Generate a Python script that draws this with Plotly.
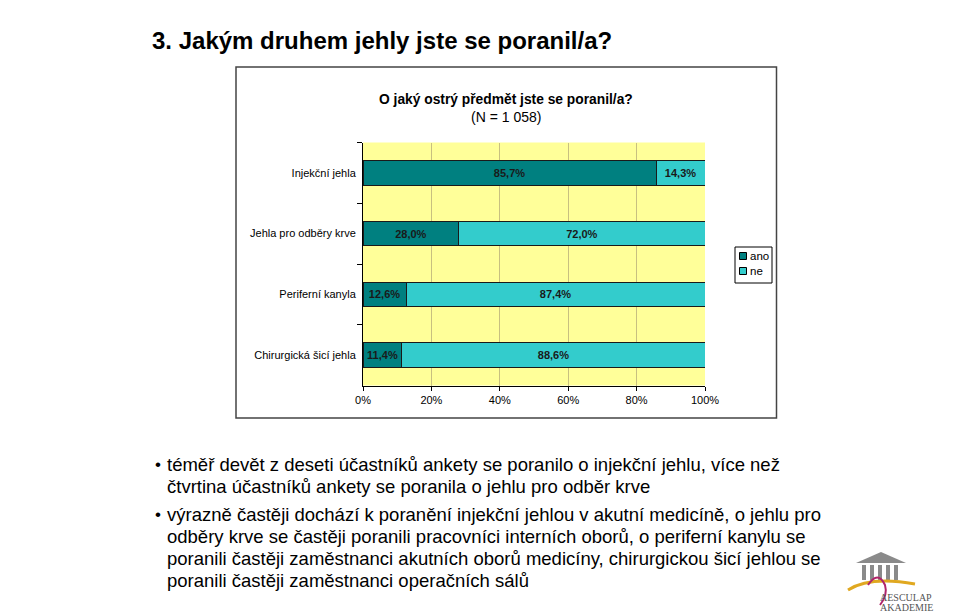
import plotly.graph_objects as go

categories = ["Injekční jehla", "Jehla pro odběry krve", "Periferní kanyla", "Chirurgická šicí jehla"]
ano = [85.7, 28.0, 12.6, 11.4]
ne = [14.3, 72.0, 87.4, 88.6]
series_names = ["ano", "ne"]
series_colors = ["#008080", "#33CCCC"]
x_ticks = [0, 20, 40, 60, 80, 100]

page_title = "<b>3. Jakým druhem jehly jste se poranil/a?</b>"
chart_title = "<b>O jaký ostrý předmět jste se poranil/a?</b>"
chart_subtitle = "(N = 1 058)"
bullet_lines = [
    ("• ", "téměř devět z deseti účastníků ankety se poranilo o injekční jehlu, více než"),
    ("", "čtvrtina účastníků ankety se poranila o jehlu pro odběr krve"),
    ("• ", "výrazně častěji dochází k poranění injekční jehlou v akutní medicíně, o jehlu pro"),
    ("", "odběry krve se častěji poranili pracovníci interních oborů, o periferní kanylu se"),
    ("", "poranili častěji zaměstnanci akutních oborů medicíny, chirurgickou šicí jehlou se"),
    ("", "poranili častěji zaměstnanci operačních sálů"),
]
bullet_y = [464, 486, 514, 536, 558, 580]

W, H = 960, 614
FONT = "Liberation Sans, Arial, sans-serif"
def px(x):
    return x / W
def py(y):
    return 1 - y / H

fig = go.Figure()
for name, vals, col in zip(series_names, [ano, ne], series_colors):
    fig.add_trace(go.Bar(
        y=categories, x=vals, name=name, orientation="h",
        marker=dict(color=col, line=dict(color="#1a1a1a", width=1)),
        texttemplate="<b>%{x:.1f}%</b>", textposition="inside", insidetextanchor="middle",
        textfont=dict(size=11, color="#1a1a1a", family=FONT),
        width=0.4, showlegend=False,
    ))

shapes = []
# chart box
shapes.append(dict(type="rect", xref="paper", yref="paper",
                   x0=px(236), x1=px(776.5), y0=py(418), y1=py(67),
                   line=dict(color="#444444", width=1.5), fillcolor="rgba(0,0,0,0)", layer="below"))
# plot area background
shapes.append(dict(type="rect", xref="paper", yref="paper",
                   x0=px(363), x1=px(705), y0=py(385.5), y1=py(142.5),
                   line=dict(width=0), fillcolor="#FFFF99", layer="below"))

# custom legend
shapes.append(dict(type="rect", xref="paper", yref="paper",
                   x0=px(735), x1=px(772), y0=py(283), y1=py(247),
                   line=dict(color="#000000", width=1), fillcolor="#FFFFFF"))
for i, col in enumerate(series_colors):
    yc = 256 + i * 15
    shapes.append(dict(type="rect", xref="paper", yref="paper",
                       x0=px(739.5), x1=px(746.5), y0=py(yc + 3.5), y1=py(yc - 3.5),
                       line=dict(color="#000000", width=1), fillcolor=col))

# logo
shapes.append(dict(type="path", xref="paper", yref="paper",
                   path=f"M {px(856)},{py(563)} L {px(881)},{py(552)} L {px(906)},{py(563)} Z",
                   fillcolor="#8a8a8a", line=dict(width=0)))
for cx in [862, 870, 878, 886, 894]:
    shapes.append(dict(type="rect", xref="paper", yref="paper",
                       x0=px(cx), x1=px(cx + 4), y0=py(580), y1=py(565),
                       fillcolor="#8a8a8a", line=dict(width=0)))
shapes.append(dict(type="path", xref="paper", yref="paper",
                   path=f"M {px(848)},{py(590)} Q {px(870)},{py(576)} {px(915)},{py(584)}",
                   line=dict(color="#e0a820", width=3)))
shapes.append(dict(type="path", xref="paper", yref="paper",
                   path=f"M {px(868)},{py(585)} Q {px(878)},{py(570)} {px(885)},{py(585)} Q {px(888)},{py(595)} {px(880)},{py(605)}",
                   line=dict(color="#b0246a", width=2)))

annotations = []
for i, name in enumerate(series_names):
    yc = 256 + i * 15
    annotations.append(dict(text=name, xref="paper", yref="paper", x=px(748), y=py(yc),
                            xanchor="left", yanchor="middle", showarrow=False,
                            font=dict(size=11.5, color="#000000", family=FONT)))
annotations.append(dict(text=page_title, xref="paper", yref="paper", x=px(150), y=py(40),
                        xanchor="left", yanchor="middle", showarrow=False,
                        font=dict(size=24, color="#000000", family=FONT)))
annotations.append(dict(text=chart_title, xref="paper", yref="paper", x=px(506), y=py(100),
                        xanchor="center", yanchor="middle", showarrow=False,
                        font=dict(size=13.8, color="#000000", family=FONT)))
annotations.append(dict(text=chart_subtitle, xref="paper", yref="paper", x=px(506), y=py(117),
                        xanchor="center", yanchor="middle", showarrow=False,
                        font=dict(size=14, color="#000000", family=FONT)))
for (bullet, line), yy in zip(bullet_lines, bullet_y):
    if bullet:
        annotations.append(dict(text="•", xref="paper", yref="paper", x=px(153), y=py(yy),
                                xanchor="left", yanchor="middle", showarrow=False,
                                font=dict(size=17, color="#000000", family=FONT)))
    annotations.append(dict(text=line, xref="paper", yref="paper", x=px(165), y=py(yy),
                            xanchor="left", yanchor="middle", showarrow=False,
                            font=dict(size=18.5, color="#000000", family=FONT)))
annotations.append(dict(text="AESCULAP", xref="paper", yref="paper", x=px(878), y=py(597),
                        xanchor="left", yanchor="middle", showarrow=False,
                        font=dict(size=10, color="#555555", family="Liberation Serif, serif")))
annotations.append(dict(text="AKADEMIE", xref="paper", yref="paper", x=px(878), y=py(607),
                        xanchor="left", yanchor="middle", showarrow=False,
                        font=dict(size=10, color="#555555", family="Liberation Serif, serif")))

fig.update_layout(
    width=W, height=H,
    margin=dict(l=0, r=0, t=0, b=0, autoexpand=False),
    paper_bgcolor="#FFFFFF", plot_bgcolor="rgba(0,0,0,0)",
    barmode="stack", bargap=0.6,
    separators=", ",
    font=dict(family=FONT, color="#000000", size=11),
    showlegend=False,
    xaxis=dict(domain=[px(363), px(705)], range=[0, 100], tickvals=x_ticks,
               ticktext=[f"{v}%" for v in x_ticks], showgrid=True,
               gridcolor="#c8c080", gridwidth=1, zeroline=False,
               showline=True, linecolor="#000000", linewidth=1,
               ticks="outside", ticklen=4, tickcolor="#000000",
               tickfont=dict(size=11), anchor="y", automargin=False),
    yaxis=dict(domain=[py(385.5), py(142.5)], autorange="reversed",
               showline=True, linecolor="#000000", linewidth=1,
               ticks="outside", ticklen=5, tickcolor="#000000",
               tickson="boundaries", showgrid=False,
               tickfont=dict(size=11), ticklabelstandoff=4, automargin=False),
    shapes=shapes, annotations=annotations,
)

fig.write_html("out.html")
